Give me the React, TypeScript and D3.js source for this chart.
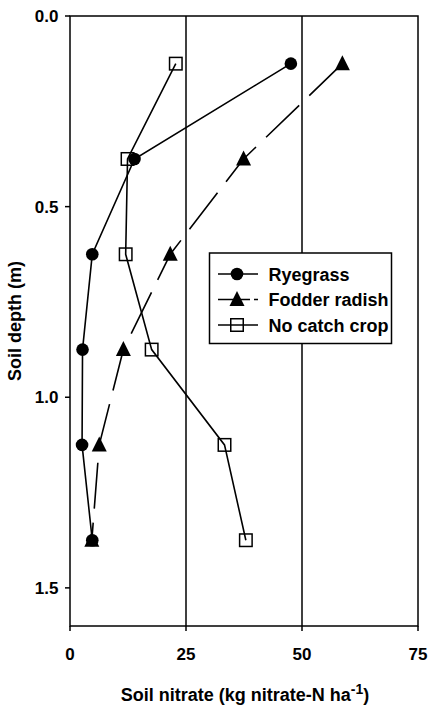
import React from "react";
import * as d3 from "d3";

const depths = [0.125, 0.375, 0.625, 0.875, 1.125, 1.375];
const ryegrass = [47.6, 13.9, 4.8, 2.7, 2.6, 4.8];
const fodderRadish = [58.7, 37.4, 21.6, 11.5, 6.3, 4.7];
const noCatchCrop = [22.8, 12.4, 12.0, 17.6, 33.3, 37.9];
const seriesNames = ["Ryegrass", "Fodder radish", "No catch crop"];
const xTicks = [0, 25, 50, 75];
const yTicks = [0, 0.5, 1.0, 1.5];
const gridValues = [25, 50];

const W = 431;
const H = 709;
const FONT = "'Liberation Sans', Arial, Helvetica, sans-serif";

export default function App() {
  const left = 70, right = 418, top = 16, bottom = 626;
  const x = d3.scaleLinear().domain([0, 75]).range([left, right]);
  const y = d3.scaleLinear().domain([0, 1.6]).range([top, bottom]);

  const line = d3
    .line<[number, number]>()
    .x((d) => x(d[0]))
    .y((d) => y(d[1]));

  const toPts = (vals: number[]) => vals.map((v, i) => [v, depths[i]] as [number, number]);

  const triPath = "M0,-8.5L7.5,6.5L-7.5,6.5Z";
  const sq = 12.5;
  const dash = "46,14";

  const marker = (kind: number, cx: number, cy: number, key: string) => {
    if (kind === 0) return <circle key={key} cx={cx} cy={cy} r={6.3} fill="#000" />;
    if (kind === 1) return <path key={key} d={triPath} transform={`translate(${cx},${cy})`} fill="#000" />;
    return (
      <rect
        key={key}
        x={cx - sq / 2}
        y={cy - sq / 2}
        width={sq}
        height={sq}
        fill="none"
        stroke="#000"
        strokeWidth={1.5}
      />
    );
  };

  const series = [ryegrass, fodderRadish, noCatchCrop];

  const legX = 209.5, legY = 253, legW = 182, legH = 90.5;
  const rowY = [274, 299.5, 325];

  return (
    <svg
      width={W}
      height={H}
      style={{ position: "absolute", left: 0, top: 0, background: "#fff" }}
      fontFamily={FONT}
    >
      <rect x={0} y={0} width={W} height={H} fill="#fff" />
      {gridValues.map((g) => (
        <line key={g} x1={x(g)} x2={x(g)} y1={top} y2={bottom} stroke="#000" strokeWidth={1.5} />
      ))}
      <rect x={left} y={top} width={right - left} height={bottom - top} fill="none" stroke="#000" strokeWidth={1.5} />
      {yTicks.map((t) => (
        <g key={t}>
          <line x1={left - 5} x2={left} y1={y(t)} y2={y(t)} stroke="#000" strokeWidth={1.5} />
          <text x={58.5} y={y(t)} dy="0.36em" textAnchor="end" fontSize={17} fontWeight="bold">
            {d3.format(".1f")(t)}
          </text>
        </g>
      ))}
      {xTicks.map((t) => (
        <g key={t}>
          <line x1={x(t)} x2={x(t)} y1={bottom} y2={bottom + 5} stroke="#000" strokeWidth={1.5} />
          <text x={x(t)} y={660} textAnchor="middle" fontSize={17} fontWeight="bold">
            {t}
          </text>
        </g>
      ))}
      <text
        transform={`translate(21,${(top + bottom) / 2}) rotate(-90)`}
        textAnchor="middle"
        fontSize={18}
        fontWeight="bold"
      >
        Soil depth (m)
      </text>
      <text x={(left + right) / 2 + 1} y={701} textAnchor="middle" fontSize={18} fontWeight="bold">
        Soil nitrate (kg nitrate-N ha
        <tspan dy={-7} fontSize={14}>-1</tspan>
        <tspan dy={7}>)</tspan>
      </text>

      {series.map((vals, i) => (
        <path
          key={"l" + i}
          d={line(toPts(vals)) || ""}
          fill="none"
          stroke="#000"
          strokeWidth={1.6}
          strokeDasharray={i === 1 ? dash : undefined}
        />
      ))}
      {series.map((vals, i) => vals.map((v, j) => marker(i, x(v), y(depths[j]), `m${i}-${j}`)))}

      <rect x={legX} y={legY} width={legW} height={legH} fill="#fff" stroke="#000" strokeWidth={1.5} />
      {seriesNames.map((name, i) => (
        <g key={name}>
          <line
            x1={218}
            x2={258}
            y1={rowY[i]}
            y2={rowY[i]}
            stroke="#000"
            strokeWidth={1.5}
            strokeDasharray={i === 1 ? "32,4" : undefined}
          />
          {marker(i, 237, rowY[i], "lg" + i)}
          <text x={268.5} y={rowY[i] + 6.5} fontSize={18} fontWeight="bold">
            {name}
          </text>
        </g>
      ))}
    </svg>
  );
}
